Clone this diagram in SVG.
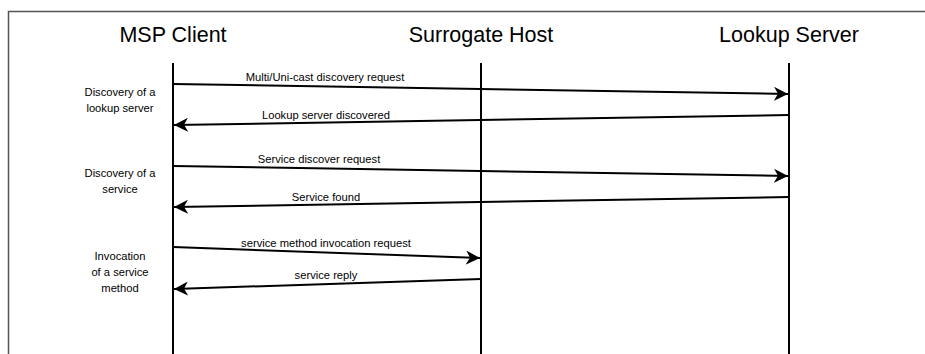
<svg xmlns="http://www.w3.org/2000/svg" width="925" height="354" viewBox="0 0 925 354">
<style>
.hdr{font-family:"Liberation Sans",Arial,sans-serif;font-size:21.5px;fill:#000;text-anchor:middle}
.side{font-family:"Liberation Sans",Arial,sans-serif;font-size:11.2px;fill:#000;text-anchor:middle}
.lbl{font-family:"Liberation Sans",Arial,sans-serif;font-size:11.2px;fill:#000;text-anchor:middle}
.life{stroke:#000;stroke-width:2;fill:none}
.msg{stroke:#000;stroke-width:2;fill:none;marker-end:url(#ah)}
</style>
<defs>
<marker id="ah" markerUnits="userSpaceOnUse" markerWidth="16" markerHeight="14" refX="14" refY="7" orient="auto">
<path d="M0,0 L14,7 L0,14 L4,7 Z" fill="#000"/>
</marker>
</defs>
<rect width="925" height="354" fill="#fff"/>
<g id="frame">
<path d="M8.5,354 L8.5,11.5 L925,11.5" fill="none" stroke="#555" stroke-width="1.5"/>
</g>
<g id="msp-client">
<text class="hdr" x="173" y="42">MSP Client</text>
<line class="life" x1="173" y1="63" x2="173" y2="354"/>
</g>
<g id="surrogate-host">
<text class="hdr" x="481" y="42">Surrogate Host</text>
<line class="life" x1="481" y1="63" x2="481" y2="354"/>
</g>
<g id="lookup-server">
<text class="hdr" x="789" y="42">Lookup Server</text>
<line class="life" x1="789" y1="63" x2="789" y2="354"/>
</g>
<g id="phase-labels">
<text class="side" x="120" y="96">Discovery of a</text>
<text class="side" x="120" y="112">lookup server</text>
<text class="side" x="120" y="177">Discovery of a</text>
<text class="side" x="120" y="193">service</text>
<text class="side" x="120" y="260">Invocation</text>
<text class="side" x="120" y="276">of a service</text>
<text class="side" x="120" y="292">method</text>
</g>
<g id="connectors">
<line class="msg" x1="173" y1="84" x2="788" y2="94"/>
<text class="lbl" x="325" y="81">Multi/Uni-cast discovery request</text>
<line class="msg" x1="789" y1="115" x2="174" y2="125"/>
<text class="lbl" x="326" y="119">Lookup server discovered</text>
<line class="msg" x1="173" y1="166" x2="788" y2="176"/>
<text class="lbl" x="319" y="163">Service discover request</text>
<line class="msg" x1="789" y1="197" x2="174" y2="207"/>
<text class="lbl" x="326" y="201">Service found</text>
<line class="msg" x1="173" y1="247" x2="480" y2="258"/>
<text class="lbl" x="326" y="247">service method invocation request</text>
<line class="msg" x1="481" y1="279" x2="174" y2="289"/>
<text class="lbl" x="326" y="279">service reply</text>
</g>
</svg>
